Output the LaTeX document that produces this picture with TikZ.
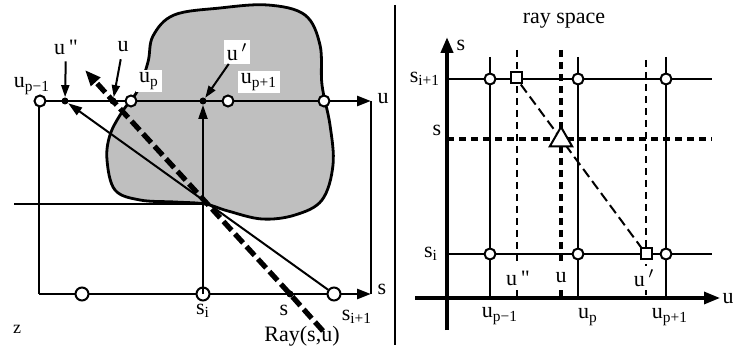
\documentclass[tikz,border=0pt]{standalone}
\usepackage{fontspec}
\setmainfont{Liberation Serif}
\newfontfamily\plainfont{Liberation Serif}
\usetikzlibrary{arrows.meta, shapes.geometric}

\newcommand{\idx}[2]{#1\textsubscript{#2}}
\newcommand{\udd}{u\,{\plainfont"}}

\begin{document}
\begin{tikzpicture}[
  x=0.5pt, y=-0.5pt,
  font=\fontsize{11}{13}\selectfont,
  axis/.style={line width=1.4pt, -{Triangle[length=7pt,width=5pt]}},
  raybeam/.style={line width=1pt, -{Triangle[length=7pt,width=4.5pt]}},
  pointer/.style={line width=1pt, -{Triangle[length=6pt,width=4pt]}},
  hole/.style={circle, draw, line width=1pt, fill=white, inner sep=0pt, minimum size=5.5pt},
  bighole/.style={hole, minimum size=6.5pt},
  hit/.style={circle, fill=black, inner sep=0pt, minimum size=3.5pt},
  tag/.style={fill=white, inner sep=1.5pt},
  gridtag/.style={fill=white, inner xsep=1.5pt, inner ysep=1pt, minimum height=12pt},
  gridline/.style={line width=1pt},
  guide/.style={line width=1pt, dash pattern=on 3.5pt off 2.5pt},
  boldguide/.style={line width=1.7pt, dash pattern=on 3.5pt off 2.5pt},
  sample/.style={rectangle, draw, line width=1pt, fill=white, inner sep=0pt, minimum size=5.5pt}
]
\useasboundingbox (0,0) rectangle (733,347);

\draw[line width=1.4pt, fill=black!25] plot[smooth cycle, tension=0.6] coordinates {
  (148,62) (153,36) (174,15) (220,8) (268,5) (305,15) (320,45) (322,85)
  (330,125) (333,165) (322,200) (295,215) (262,219) (228,211) (205,204)
  (175,202) (140,200) (115,190) (107,160) (110,135) (122,112) (138,90)};

\coordinate (u0) at (39,101);
\coordinate (u1) at (371,101);
\coordinate (s0) at (39,294);
\coordinate (s1) at (371,294);
\coordinate (focus) at (205,204);
\coordinate (zend) at (14,204);
\draw[line width=1pt] (u0) -- (s0);
\draw[line width=1pt] (u1) -- (s1);
\draw[line width=1pt] (zend) -- (focus);
\draw[axis] (u0) -- (u1);
\draw[axis] (s0) -- (s1);

\foreach \n/\x in {1/40,2/131,3/228,4/324}
  \node[hole] (uc\n) at (\x,101) {};
\foreach \n/\x in {1/82,2/203,3/334}
  \node[bighole] (sc\n) at (\x,294) {};
\node[hit] (duu) at (65,101) {};
\node[hit] (du) at (113,101) {};
\node[hit] (dup) at (203,101) {};
\node[hit] (ds) at (290,294) {};

\node (lupm) at (32,86) {\idx{u}{p−1}};
\node (luu) at (66,47) {\udd};
\node (lu) at (123,47) {u};
\node[tag] (lup) at (149,81) {\idx{u}{p}};
\node[tag] (lupr) at (237,52) {u\,$'$};
\node[tag] (lupp) at (259,82) {\idx{u}{p+1}};
\node (luax) at (383,99) {u};
\node (lsax) at (382,289) {s};
\node (lsi) at (203,311) {\idx{s}{i}};
\node (ls) at (284,310) {s};
\node (lsip) at (357,317) {\idx{s}{i+1}};
\node (lray) at (302,336) {Ray(s,u)};
\node (lz) at (17,329) {\small z};

\draw[raybeam] (sc2.center) -- (dup);
\draw[raybeam] (sc3) -- (duu);
\coordinate (rayend) at (323,331);
\coordinate (raytip) at (85,70);
\draw[line width=2.6pt, dash pattern=on 6pt off 2.5pt, -{Triangle[length=8pt,width=6pt]}] (rayend) -- (ds.center) -- (du.center) -- (raytip);
\draw[pointer] (luu) -- (duu);
\draw[pointer] (lu) -- (du);
\draw[pointer] (lupr) -- (dup);

\draw[line width=1pt] (395,5) -- (395,345);
\node (title) at (564,21) {ray space};
\foreach \y in {79,254}
  \draw[gridline] (447,\y) -- (712,\y);
\foreach \x in {490,578,666}
  \draw[gridline] (\x,57) -- (\x,298);
\draw[guide] (517,50) -- (517,298);
\draw[boldguide] (561,50) -- (561,298);
\draw[guide] (646,60) -- (646,298);
\draw[boldguide] (447,139) -- (712,139);
\draw[line width=2pt, -{Triangle[length=8pt,width=6pt]}] (447,330) -- (447,37);
\draw[line width=1.6pt, -{Triangle[length=8pt,width=6pt]}] (415,298) -- (720,298);
\foreach \x in {490,578,666} {
  \node[hole] at (\x,79) {};
  \node[hole] at (\x,254) {};
}
\node[sample] (q1) at (516,78) {};
\node[sample] (q2) at (646,254) {};
\draw[line width=1pt, dash pattern=on 5pt off 2.5pt] (q1) -- (q2);
\node[regular polygon, regular polygon sides=3, draw, line width=1pt, fill=white,
  inner sep=0pt, minimum size=13pt] (tri) at (561,140) {};

\node (rs) at (461,45) {s};
\node (rsip) at (425,79) {\idx{s}{i+1}};
\node (rss) at (437,130) {s};
\node (rsi) at (431,254) {\idx{s}{i}};
\node (ru) at (728,299) {u};
\node[gridtag] (ruu) at (518,278) {\udd};
\node[gridtag] (rur) at (561,278) {u};
\node[gridtag] (rup) at (644,278) {u\,$'$};
\node (rupm) at (500,316) {\idx{u}{p−1}};
\node (rupp) at (588,317) {\idx{u}{p}};
\node (rupq) at (670,317) {\idx{u}{p+1}};
\end{tikzpicture}
\end{document}
